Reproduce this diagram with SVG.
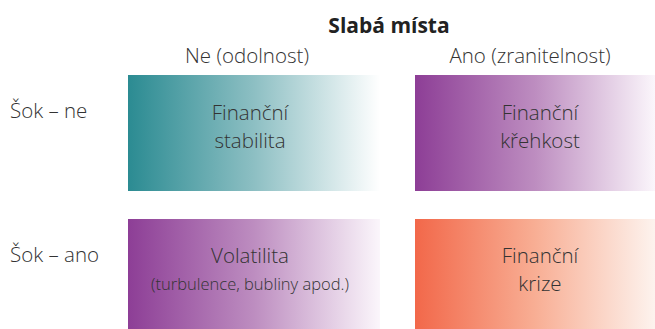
<svg xmlns="http://www.w3.org/2000/svg" width="655" height="329" viewBox="0 0 655 329">
<defs>
<linearGradient id="gTeal" x1="0" y1="0" x2="1" y2="0">
<stop offset="0" stop-color="#2b8b92"/><stop offset="0.5" stop-color="#8dbfc3"/><stop offset="1" stop-color="#ffffff"/>
</linearGradient>
<linearGradient id="gPurple" x1="0" y1="0" x2="1" y2="0">
<stop offset="0" stop-color="#8d3e96"/><stop offset="0.5" stop-color="#bd8dc0"/><stop offset="1" stop-color="#fbf6fb"/>
</linearGradient>
<linearGradient id="gOrange" x1="0" y1="0" x2="1" y2="0">
<stop offset="0" stop-color="#f2684a"/><stop offset="0.5" stop-color="#f8ae94"/><stop offset="1" stop-color="#fdf3ee"/>
</linearGradient>
</defs>
<style>
text{font-family:"Open Sans","Noto Sans","Liberation Sans",sans-serif;fill:#333333;font-weight:300;}
.h{font-size:20.5px;}
.b{font-size:20.5px;text-anchor:middle;}
.s{font-size:16.5px;text-anchor:middle;}
.t{font-size:21px;font-weight:700;text-anchor:middle;fill:#222;}
</style>
<g id="header">
<text class="t" x="389" y="33">Slabá místa</text>
<text class="b" x="247" y="63">Ne (odolnost)</text>
<text class="b" x="530" y="63">Ano (zranitelnost)</text>
</g>
<g id="rows">
<text class="h" x="10" y="118">Šok – ne</text>
<text class="h" x="10" y="262">Šok – ano</text>
</g>
<g id="stabilita">
<rect x="128" y="75" width="252" height="116" fill="url(#gTeal)"/>
<text class="b" x="250" y="120">Finanční</text>
<text class="b" x="250" y="148">stabilita</text>
</g>
<g id="krehkost">
<rect x="415" y="75" width="240" height="116" fill="url(#gPurple)"/>
<text class="b" x="540" y="120">Finanční</text>
<text class="b" x="540" y="148">křehkost</text>
</g>
<g id="volatilita">
<rect x="128" y="219" width="252" height="110" fill="url(#gPurple)"/>
<text class="b" x="250" y="263">Volatilita</text>
<text class="s" x="250" y="290">(turbulence, bubliny apod.)</text>
</g>
<g id="krize">
<rect x="415" y="219" width="240" height="110" fill="url(#gOrange)"/>
<text class="b" x="540" y="263">Finanční</text>
<text class="b" x="540" y="291">krize</text>
</g>
<g id="connectors"/>
</svg>
